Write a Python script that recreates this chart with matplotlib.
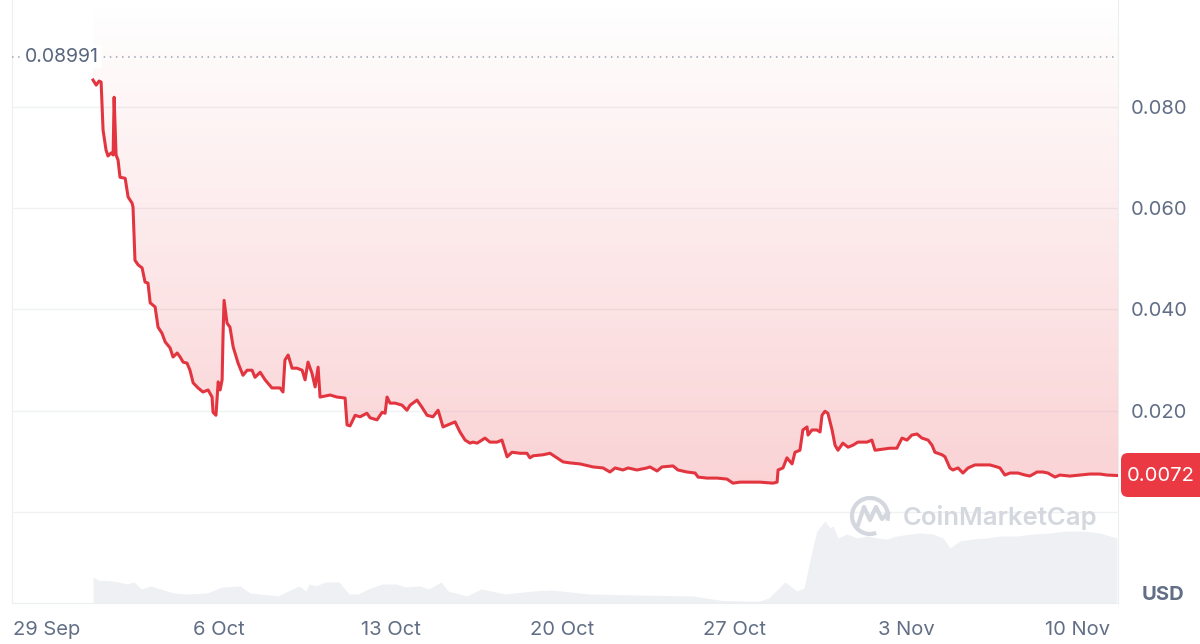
import numpy as np
import matplotlib
matplotlib.use("Agg")
import matplotlib.pyplot as plt
from matplotlib.patches import Arc, FancyBboxPatch
from matplotlib.lines import Line2D

plt.rcParams['font.family'] = ['Inter', 'DejaVu Sans']

# price, days after 29 Sep
days = [1.87, 2.00, 2.12, 2.20, 2.28, 2.40, 2.48, 2.61, 2.69, 2.73, 2.81, 2.89, 2.97, 3.18, 3.30,
        3.46, 3.50, 3.58, 3.71, 3.87, 3.99, 4.11, 4.20, 4.40, 4.52, 4.68, 4.81, 5.01, 5.13, 5.30,
        5.42, 5.54, 5.70, 5.82, 5.95, 6.15, 6.35, 6.56, 6.72, 6.76, 6.88, 6.97, 7.05, 7.13, 7.17,
        7.21, 7.33, 7.45, 7.58, 7.78, 7.98, 8.15, 8.35, 8.47, 8.68, 8.88, 9.16, 9.49, 9.61, 9.69,
        9.82, 9.98, 10.18, 10.39, 10.51, 10.63, 10.79, 10.92, 11.04, 11.12, 11.53, 11.81, 12.14,
        12.22, 12.34, 12.55, 12.75, 13.03, 13.16, 13.44, 13.65, 13.77, 13.85, 13.97, 14.18, 14.46,
        14.66, 14.79, 15.07, 15.27, 15.48, 15.72, 15.93, 16.13, 16.33, 16.62, 16.82, 17.03, 17.23,
        17.35, 17.52, 17.84, 18.04, 18.33, 18.53, 18.66, 18.74, 18.94, 19.27, 19.55, 19.67, 19.80,
        20.20, 20.49, 20.77, 21.02, 21.30, 21.71, 22.24, 22.65, 22.93, 23.14, 23.46, 23.67, 24.03,
        24.44, 24.56, 24.85, 25.05, 25.50, 25.70, 26.07, 26.40, 26.52, 26.88, 27.29, 27.70, 27.94,
        28.23, 28.64, 29.04, 29.57, 29.74, 29.78, 29.98, 30.14, 30.35, 30.47, 30.67, 30.79, 30.96,
        31.00, 31.16, 31.36, 31.49, 31.57, 31.69, 31.81, 31.98, 32.10, 32.22, 32.42, 32.63, 32.83,
        33.03, 33.40, 33.60, 33.73, 34.05, 34.34, 34.62, 34.83, 35.03, 35.23, 35.44, 35.64, 35.89,
        36.05, 36.17, 36.46, 36.58, 36.78, 36.90, 37.11, 37.31, 37.52, 37.80, 38.13, 38.41, 38.70,
        38.82, 39.02, 39.23, 39.55, 39.84, 40.04, 40.33, 40.57, 40.77, 41.06, 41.26, 41.67, 42.08,
        42.48, 42.89, 43.18, 43.63]
price = [0.0853, 0.0843, 0.0851, 0.0849, 0.0754, 0.0715, 0.0703, 0.0709, 0.0705, 0.0819, 0.0705,
         0.0695, 0.0661, 0.0659, 0.0622, 0.0610, 0.0602, 0.0497, 0.0488, 0.0482, 0.0454, 0.0452,
         0.0413, 0.0405, 0.0365, 0.0353, 0.0336, 0.0324, 0.0306, 0.0314, 0.0306, 0.0296, 0.0294,
         0.0280, 0.0255, 0.0245, 0.0237, 0.0241, 0.0227, 0.0197, 0.0191, 0.0257, 0.0241, 0.0261,
         0.0353, 0.0418, 0.0373, 0.0365, 0.0326, 0.0294, 0.0270, 0.0280, 0.0280, 0.0266, 0.0276,
         0.0261, 0.0245, 0.0245, 0.0237, 0.0300, 0.0310, 0.0284, 0.0284, 0.0280, 0.0261, 0.0296,
         0.0274, 0.0247, 0.0286, 0.0227, 0.0231, 0.0227, 0.0225, 0.0172, 0.0170, 0.0191, 0.0188,
         0.0195, 0.0186, 0.0182, 0.0197, 0.0195, 0.0227, 0.0215, 0.0215, 0.0211, 0.0201, 0.0211,
         0.0221, 0.0207, 0.0191, 0.0188, 0.0201, 0.0168, 0.0172, 0.0178, 0.0158, 0.0142, 0.0136,
         0.0138, 0.0136, 0.0146, 0.0138, 0.0138, 0.0142, 0.0122, 0.0109, 0.0118, 0.0116, 0.0116,
         0.0107, 0.0111, 0.0113, 0.0116, 0.0107, 0.0099, 0.0097, 0.0095, 0.0089, 0.0087, 0.0079,
         0.0087, 0.0083, 0.0087, 0.0083, 0.0087, 0.0089, 0.0081, 0.0089, 0.0091, 0.0083, 0.0079,
         0.0077, 0.0069, 0.0067, 0.0067, 0.0065, 0.0057, 0.0059, 0.0059, 0.0059, 0.0057, 0.0059,
         0.0083, 0.0087, 0.0107, 0.0095, 0.0118, 0.0122, 0.0162, 0.0168, 0.0152, 0.0162, 0.0162,
         0.0158, 0.0191, 0.0199, 0.0195, 0.0162, 0.0132, 0.0122, 0.0136, 0.0128, 0.0132, 0.0138,
         0.0138, 0.0142, 0.0122, 0.0124, 0.0126, 0.0126, 0.0146, 0.0142, 0.0152, 0.0154, 0.0146,
         0.0142, 0.0132, 0.0118, 0.0113, 0.0109, 0.0087, 0.0083, 0.0087, 0.0077, 0.0087, 0.0093,
         0.0093, 0.0093, 0.0089, 0.0087, 0.0073, 0.0077, 0.0077, 0.0073, 0.0071, 0.0079, 0.0079,
         0.0077, 0.0069, 0.0073, 0.0071, 0.0073, 0.0075, 0.0075, 0.0073, 0.0072]

# volume (M USD)
vol_days = [1.87, 2.12, 2.48, 2.89, 3.26, 3.54, 3.83, 4.24, 4.60, 5.17, 5.74, 6.52, 7.13, 7.86,
            8.27, 9.41, 9.82, 10.26, 10.55, 10.67, 10.96, 11.32, 11.89, 12.30, 12.67, 13.08, 13.65,
            14.22, 14.58, 15.19, 15.56, 16.05, 16.33, 17.11, 17.68, 18.66, 19.80, 20.57, 22.08,
            24.03, 26.31, 27.49, 29.00, 29.41, 30.06, 30.55, 30.84, 31.16, 31.36, 31.69, 31.89,
            32.02, 32.22, 32.59, 32.99, 33.40, 33.81, 34.22, 34.62, 35.15, 35.56, 36.09, 36.50,
            36.78, 37.19, 37.72, 38.29, 38.82, 39.51, 40.16, 40.86, 41.55, 42.20, 42.89, 43.58]
volume = [2.6, 2.25, 2.25, 2.1, 1.9, 2.1, 1.4, 1.7, 1.4, 1.0, 0.9, 1.0, 1.6, 1.7, 1.0, 0.7, 1.2,
          1.7, 1.2, 1.9, 1.7, 2.1, 2.1, 0.9, 0.9, 1.4, 1.9, 1.9, 1.6, 1.7, 1.4, 2.1, 1.2, 0.7, 1.4,
          0.9, 1.2, 1.3, 0.9, 0.8, 0.7, 0.25, 0.17, 0.5, 2.1, 1.2, 1.5, 5.2, 7.2, 8.2, 7.5, 7.7,
          6.5, 6.9, 6.5, 6.7, 6.5, 6.4, 6.7, 6.9, 7.0, 6.9, 6.5, 5.5, 6.2, 6.4, 6.5, 6.7, 6.7,
          6.9, 7.0, 7.2, 7.2, 7.0, 6.5]

tick_days = [0, 7, 14, 21, 28, 35, 42]
tick_labels = ['29 Sep', '6 Oct', '13 Oct', '20 Oct', '27 Oct', '3 Nov', '10 Nov']
price_ticks = [0.020, 0.040, 0.060, 0.080]
high_price = 0.08991
last_price = '0.0072'

red = '#ea3943'
grey = '#616e85'
xlim = (-1.43, 43.63)
ylim = (-0.01796, 0.1011)

fig = plt.figure(figsize=(12, 6.44), dpi=100)
ax_vol = fig.add_axes([0.01, 0.0637, 0.9217, 0.9363])
ax_vol.fill_between(vol_days, volume, 0, color='#eef0f3', lw=0)
ax_vol.set_ylim(0, 60.3)
ax_vol.set_xlim(*xlim)
ax_vol.set_yticks([])
for s in ['left', 'right', 'bottom']:
    ax_vol.spines[s].set_color('#eceef2')
ax_vol.spines['top'].set_visible(False)
ax_vol.set_xticks(tick_days)
ax_vol.set_xticklabels(tick_labels)
ax_vol.tick_params(axis='x', length=0, pad=13, labelsize=14.5, labelcolor=grey)

ax = ax_vol.twinx()
ax.set_ylim(*ylim)
ax.set_xlim(*xlim)
for s in ax.spines.values():
    s.set_visible(False)
ax.set_yticks(price_ticks)
ax.set_yticklabels([f'{t:.3f}' for t in price_ticks])
ax.tick_params(axis='y', length=0, pad=9, labelsize=14.5, labelcolor=grey)
for t in [0.0] + price_ticks:
    ax.axhline(t, color='#eff1f4', lw=1, zorder=1)

# gradient fill above the line
poly = ax.fill_between(days, price, ylim[1], color='none', lw=0)
grad = np.zeros((200, 1, 4))
grad[:, 0, :3] = matplotlib.colors.to_rgb(red)
grad[:, 0, 3] = np.linspace(0.28, 0.0, 200)
img = ax.imshow(grad, extent=[xlim[0], xlim[1], ylim[0], ylim[1]], origin='lower',
                aspect='auto', zorder=2)
img.set_clip_path(poly.get_paths()[0], transform=ax.transData)
ax.set_xlim(*xlim)
ax.set_ylim(*ylim)

ax.plot(days, price, color='#e23540', lw=2.2, zorder=4, solid_joinstyle='round')

# high marker
ax.axhline(high_price, color='#9aa3b2', lw=1.1, ls=(0, (1, 3)), zorder=3)
ax.text(0.012, high_price, f'{high_price}', transform=ax.get_yaxis_transform(),
        ha='left', va='center', fontsize=14, color='#58667e', zorder=5,
        bbox=dict(facecolor='white', edgecolor='none', pad=2))

# last price tag
fig.add_artist(FancyBboxPatch((1121, 644 - 497), 85, 44, boxstyle='round,pad=0,rounding_size=7',
                              transform=None, facecolor=red, edgecolor='none'))
fig.text(1161 / 1200, 1 - 476 / 644, last_price, ha='center', va='center', color='white',
         fontsize=14.5)
fig.text(1163 / 1200, 1 - 595 / 644, 'USD', ha='center', va='center', color=grey,
         fontsize=14.5, fontweight='bold')

# watermark
wm = '#d4d8de'
fig.add_artist(Arc((870, 644 - 516), 36, 36, theta1=-15, theta2=290, transform=None,
                   color=wm, lw=3))
fig.add_artist(Line2D([858, 864, 870, 876, 882, 888], [644 - 525, 644 - 507, 644 - 520,
                      644 - 507, 644 - 519, 644 - 513], transform=None, color=wm, lw=3))
fig.text(1000 / 1200, 1 - 517 / 644, 'CoinMarketCap', ha='center', va='center', color=wm,
         fontsize=18.5, fontweight='semibold')

fig.savefig('out.png', dpi=100)
